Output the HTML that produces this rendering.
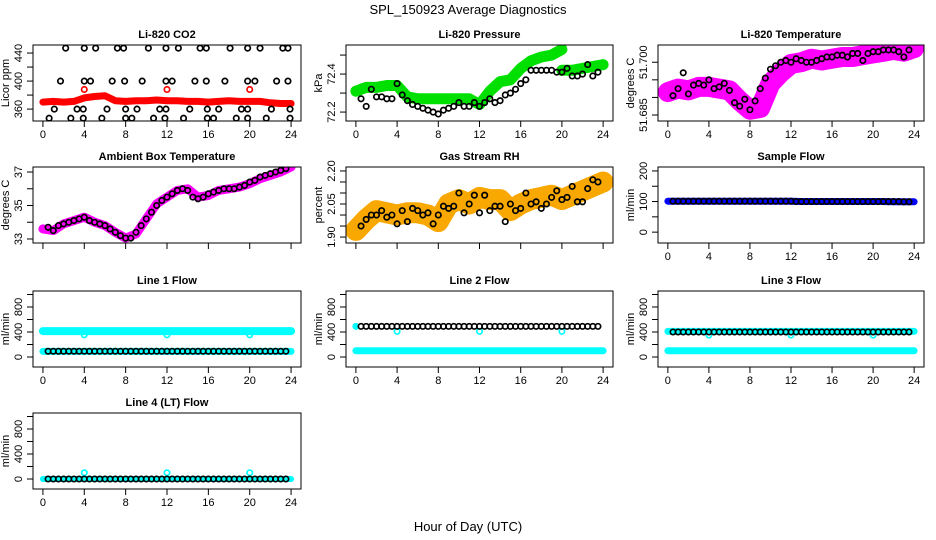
<!DOCTYPE html>
<html><head><meta charset="utf-8"><style>
html,body{margin:0;padding:0;background:#fff}
svg{display:block;font-family:"Liberation Sans",sans-serif}
</style></head><body>
<svg id="chart" width="936" height="540" viewBox="0 0 936 540">
<rect width="936" height="540" fill="#fff"/>
<text x="468" y="14" text-anchor="middle" font-size="13">SPL_150923  Average Diagnostics</text>
<text x="468" y="531" text-anchor="middle" font-size="13">Hour of Day (UTC)</text>
</svg>
<script>
// ---------- data ----------
const xTicks = [0,4,8,12,16,20,24];
const bandHours = [0,1,2,3,4,5,6,7,8,9,10,11,12,13,14,15,16,17,18,19,20,21,22,23,24];

const co2Band = [370,371,370,371,376,378,379,372,371,372,372,373,372,372,371,371,370,371,372,371,371,371,369,368,368];
const co2RedX = [4,12,20];
const co2RedY = [388,388,388];
const co2BlackX = [2.2,4.0,5.1,7.2,7.8,10.2,11.9,13.1,15.2,15.8,18.1,19.8,21.0,23.2,23.7,
  1.7,4.0,4.6,6.7,7.9,9.6,11.9,12.5,14.7,15.8,17.6,19.8,20.5,22.6,23.7,
  1.1,3.3,3.9,6.2,8.0,9.1,11.3,11.9,14.2,15.9,17.0,19.2,19.8,22.1,23.9,
  0.6,2.7,3.9,5.7,8.0,8.6,10.7,11.8,13.6,15.9,16.5,18.7,19.8,21.6,23.9];
const co2BlackY = [447,447,447,447,447,447,447,447,447,447,447,447,447,447,447,
  400,400,400,400,400,400,400,400,400,400,400,400,400,400,400,
  360,360,360,360,360,360,360,360,360,360,360,360,360,360,360,
  347,347,347,347,347,347,347,347,347,347,347,347,347,347,347];

const pressHoursA = [0,1,2,3,4,5,6,7,8,9,10,11,12,13,14,15,16,17,18,19,20];
const pressBandA = [72.31,72.33,72.33,72.34,72.34,72.28,72.27,72.27,72.27,72.27,72.27,72.27,72.24,72.31,72.36,72.37,72.43,72.47,72.49,72.50,72.53];
const pressHoursB = [20,21,22,23,24];
const pressBandB = [72.42,72.42,72.43,72.44,72.45];
const pressBlack = [72.27,72.23,72.32,72.28,72.28,72.27,72.27,72.35,72.29,72.26,72.24,72.23,72.22,72.21,72.2,72.19,72.21,72.22,72.23,72.25,72.23,72.23,72.25,72.23,72.25,72.27,72.25,72.26,72.29,72.3,72.32,72.35,72.37,72.42,72.42,72.42,72.42,72.42,72.41,72.41,72.43,72.39,72.39,72.4,72.45,72.39,72.41];

const tempBand = [51.6915,51.6925,51.692,51.693,51.693,51.6925,51.692,51.689,51.6865,51.687,51.694,51.697,51.6995,51.700,51.701,51.7005,51.701,51.7015,51.7015,51.702,51.7025,51.703,51.7035,51.703,51.704];
const tempBlack = [51.6905,51.6925,51.697,51.691,51.6935,51.694,51.6935,51.695,51.6925,51.693,51.694,51.692,51.6885,51.6875,51.6895,51.6865,51.689,51.6925,51.6955,51.698,51.699,51.700,51.7005,51.700,51.701,51.7005,51.7000,51.700,51.7005,51.701,51.7015,51.7015,51.702,51.702,51.7015,51.7025,51.7025,51.7005,51.7025,51.703,51.703,51.7035,51.7035,51.7035,51.703,51.7015,51.7035];

const ambBand = [33.6,33.5,33.9,34.1,34.3,34.0,33.8,33.4,33.05,33.3,34.2,35.1,35.5,35.9,36.0,35.5,35.6,35.9,36.0,36.1,36.3,36.6,36.8,37.0,37.3];
const ambBlack = [33.7,33.5,33.8,33.9,34.0,34.1,34.2,34.3,34.1,34.0,33.9,33.8,33.6,33.4,33.2,33.05,33.05,33.4,33.8,34.2,34.6,35.0,35.3,35.5,35.7,35.9,36.0,35.9,35.5,35.4,35.5,35.7,35.8,35.9,36.0,36.0,36.0,36.1,36.2,36.4,36.5,36.7,36.8,36.9,37.0,37.1,37.2];

const rhBand = [1.93,1.98,2.02,2.01,2.0,2.01,2.01,2.0,1.97,2.05,2.07,2.05,2.08,2.07,2.07,2.02,2.05,2.07,2.08,2.09,2.07,2.09,2.11,2.13,2.15];
const rhBlack = [1.95,1.98,2.0,2.0,2.02,1.99,2.0,1.96,2.02,1.97,2.03,2.02,2.0,2.01,1.96,2.0,2.04,2.03,2.04,2.1,2.01,2.05,2.09,2.01,2.09,2.02,2.04,2.04,1.97,2.05,2.02,2.03,2.1,2.05,2.06,2.03,2.05,2.08,2.11,2.07,2.08,2.13,2.06,2.06,2.12,2.16,2.15];

const sampleBand = [101,101,101,101,101,101,101,101,101,101,101,101,101,100,100,100,100,100,100,100,100,100,99,99,99];
const sampleBlack = [101,101,101,101,101,101,101,101,101,101,101,101,101,101,101,101,101,101,101,101,101,101,101,101,100,100,100,100,100,100,100,100,100,100,100,100,100,100,100,100,100,100,100,100,100,99,99];

const l1CyanHi = [415,415,415,415,415,415,415,415,415,415,415,415,415,415,415,415,415,415,415,415,415,415,415,415,415];
const l1CyanLo = [90,90,90,90,90,90,90,90,90,90,90,90,90,90,90,90,90,90,90,90,90,90,90,90,90];
const l1Out = [355,355,355];
const l1Black = [92,92,92,92,92,92,92,92,92,92,92,92,92,92,92,92,92,92,92,92,92,92,92,92,92,92,92,92,92,92,92,92,92,92,92,92,92,92,92,92,92,92,92,92,92,92,92];

const l2CyanHi = [490];
const l2CyanLo = [100,100,100,100,100,100,100,100,100,100,100,100,100,100,100,100,100,100,100,100,100,100,100,100,100];
const l2Out = [410,410,410];
const l2Black = [490,490,490,490,490,490,490,490,490,490,490,490,490,490,490,490,490,490,490,490,490,490,490,490,490,490,490,490,490,490,490,490,490,490,490,490,490,490,490,490,490,490,490,490,490,490,490];

const l3CyanHi = [410,410,410,410,410,410,410,410,410,410,410,410,410,410,410,410,410,410,410,410,410,410,410,410,410];
const l3CyanLo = [100,100,100,100,100,100,100,100,100,100,100,100,100,100,100,100,100,100,100,100,100,100,100,100,100];
const l3Out = [350,350,350];
const l3Black = [400,400,400,400,400,400,400,400,400,400,400,400,400,400,400,400,400,400,400,400,400,400,400,400,400,400,400,400,400,400,400,400,400,400,400,400,400,400,400,400,400,400,400,400,400,400,400];

const l4Cyan = [0,0,0,0,0,0,0,0,0,0,0,0,0,0,0,0,0,0,0,0,0,0,0,0,0];
const l4Out = [100,100,100];
const l4Black = [0,0,0,0,0,0,0,0,0,0,0,0,0,0,0,0,0,0,0,0,0,0,0,0,0,0,0,0,0,0,0,0,0,0,0,0,0,0,0,0,0,0,0,0,0,0,0];
const outHours = [4,12,20];

// ---------- drawing ----------
const NS = 'http://www.w3.org/2000/svg';
const svg = document.getElementById('chart');
const COLS = [[33,301],[346,613],[658,924]];
const ROWS = [45,167,291,413];
const BH = 76;

function mk(tag, attrs, parent){
  const e = document.createElementNS(NS, tag);
  for (const k in attrs) e.setAttribute(k, attrs[k]);
  (parent||svg).appendChild(e);
  return e;
}

function panel(col,row,cfg){
  const [L,R] = COLS[col]; const T = ROWS[row]; const B = T+BH;
  const g = mk('g',{});
  
  
  const x = h => L + (h + 0.96) / 25.92 * (R - L);
  const y = v => B - (v - cfg.ylim[0]) / (cfg.ylim[1] - cfg.ylim[0]) * BH;
  const t = mk('text',{x:(L+R)/2, y:T-7, 'text-anchor':'middle','font-size':11,'font-weight':'bold'},g);
  t.textContent = cfg.title;
  
  
  const xa = mk('g',{},g);
  
  
  mk('line',{x1:x(0),x2:x(24),y1:B,y2:B,stroke:'#000'},xa);
  xTicks.forEach(v=>{
    mk('line',{x1:x(v),x2:x(v),y1:B,y2:B+6,stroke:'#000'},xa);
    if (cfg.xlabels){
      const tl = mk('text',{x:x(v),y:B+17,'text-anchor':'middle','font-size':11},xa);
      tl.textContent = v;
    }
  });
  const ya = mk('g',{},g);
  
  
  const tk = cfg.yticks;
  mk('line',{x1:L,x2:L,y1:y(tk[0]),y2:y(tk[tk.length-1]),stroke:'#000'},ya);
  tk.forEach(v=>{
    mk('line',{x1:L-6,x2:L,y1:y(v),y2:y(v),stroke:'#000'},ya);
  });
  cfg.ylabels.forEach(v=>{
    const tl = mk('text',{x:0,y:0,'text-anchor':'middle','font-size':11,transform:`translate(${L-11},${y(v)}) rotate(-90)`},ya);
    tl.textContent = typeof v==='number' && cfg.dec ? v.toFixed(cfg.dec) : v;
  });
  const yt = mk('text',{x:0,y:0,'text-anchor':'middle','font-size':11,transform:`translate(${L-24},${(T+B)/2}) rotate(-90)`},ya);
  yt.textContent = cfg.ylab;
  
  
  const cid = 'c'+col+'_'+row;
  const cp = mk('clipPath',{id:cid},g); mk('rect',{x:L,y:T,width:R-L,height:BH},cp);
  const pg = mk('g',{'clip-path':`url(#${cid})`},g);
  (cfg.bands||[]).forEach(b=>{
    const pts = b.vals.map((v,i)=>x(b.hrs[i]).toFixed(1)+','+y(v).toFixed(1)).join(' ');
    if (b.vals.length===1){
      const c = mk('circle',{cx:x(b.hrs[0]),cy:y(b.vals[0]),r:b.w/2,fill:b.color},pg);
      
      
    } else {
      const pl = mk('polyline',{points:pts,fill:'none',stroke:b.color,'stroke-width':b.w,'stroke-linejoin':'round','stroke-linecap':'round'},pg);
      
      
    }
  });
  (cfg.pts||[]).forEach(p=>{
    p.vals.forEach((v,i)=>{
      const h = p.hrs ? p.hrs[i] : 0.5 + i*0.5;
      const c = mk('circle',{cx:x(h),cy:y(v),r:2.7,fill:'none',stroke:p.color,'stroke-width':p.sw||1.7},pg);
      
      
    });
  });
  mk('rect',{x:L,y:T,width:R-L,height:BH,fill:'none',stroke:'#000'},g);
}

panel(0,0,{name:'co2',title:'Li-820 CO2',ylab:'Licor ppm',ylim:[343,451.5],yticks:[360,380,400,420,440],ylabels:[360,400,440],xlabels:true,
  bands:[{hrs:bandHours,vals:co2Band,color:'#ff0000',w:7}],
  pts:[{hrs:co2RedX,vals:co2RedY,color:'#ff0000'},{hrs:co2BlackX,vals:co2BlackY,color:'#000'}]});
panel(1,0,{name:'pressure',title:'Li-820 Pressure',ylab:'kPa',ylim:[72.153,72.553],yticks:[72.2,72.3,72.4,72.5],ylabels:[72.2,72.4],dec:1,xlabels:true,
  bands:[{hrs:pressHoursA,vals:pressBandA,color:'#00e000',w:11},{hrs:pressHoursB,vals:pressBandB,color:'#00e000',w:11}],
  pts:[{vals:pressBlack,color:'#000'}]});
panel(2,0,{name:'li820-temperature',title:'Li-820 Temperature',ylab:'degrees C',ylim:[51.6833,51.7049],yticks:[51.685,51.690,51.695,51.700],ylabels:[51.685,51.700],dec:3,xlabels:true,
  bands:[{hrs:bandHours,vals:tempBand,color:'#ff00ff',w:20}],
  pts:[{vals:tempBlack,color:'#000'}]});
panel(0,1,{name:'ambient-temperature',title:'Ambient Box Temperature',ylab:'degrees C',ylim:[32.76,37.3],yticks:[33,34,35,36,37],ylabels:[33,35,37],xlabels:false,
  bands:[{hrs:bandHours,vals:ambBand,color:'#ff00ff',w:9}],
  pts:[{vals:ambBlack,color:'#000'}]});
panel(1,1,{name:'gas-rh',title:'Gas Stream RH',ylab:'percent',ylim:[1.873,2.218],yticks:[1.90,1.95,2.00,2.05,2.10,2.15,2.20],ylabels:[1.90,2.05,2.20],dec:2,xlabels:false,
  bands:[{hrs:bandHours,vals:rhBand,color:'#f8a800',w:21}],
  pts:[{vals:rhBlack,color:'#000'}]});
panel(2,1,{name:'sample-flow',title:'Sample Flow',ylab:'ml/min',ylim:[-35.5,212.9],yticks:[0,50,100,150,200],ylabels:[0,100,200],xlabels:true,
  bands:[{hrs:bandHours,vals:sampleBand,color:'#0000ff',w:7}],
  pts:[{vals:sampleBlack,color:'#000'}]});
const fl = {ylim:[-160,1056],yticks:[0,200,400,600,800,1000],ylabels:[0,400,800],ylab:'ml/min',xlabels:true};
panel(0,2,Object.assign({name:'line1-flow',title:'Line 1 Flow',
  bands:[{hrs:bandHours,vals:l1CyanHi,color:'#00ffff',w:8},{hrs:bandHours,vals:l1CyanLo,color:'#00ffff',w:7}],
  pts:[{hrs:outHours,vals:l1Out,color:'#00ffff'},{vals:l1Black,color:'#000'}]},fl));
panel(1,2,Object.assign({name:'line2-flow',title:'Line 2 Flow',
  bands:[{hrs:[0],vals:l2CyanHi,color:'#00ffff',w:7},{hrs:bandHours,vals:l2CyanLo,color:'#00ffff',w:7}],
  pts:[{hrs:outHours,vals:l2Out,color:'#00ffff'},{vals:l2Black,color:'#000'}]},fl));
panel(2,2,Object.assign({name:'line3-flow',title:'Line 3 Flow',
  bands:[{hrs:bandHours,vals:l3CyanHi,color:'#00ffff',w:7},{hrs:bandHours,vals:l3CyanLo,color:'#00ffff',w:7}],
  pts:[{hrs:outHours,vals:l3Out,color:'#00ffff'},{vals:l3Black,color:'#000'}]},fl));
panel(0,3,Object.assign({name:'line4-flow',title:'Line 4 (LT) Flow',
  bands:[{hrs:bandHours,vals:l4Cyan,color:'#00ffff',w:6}],
  pts:[{hrs:outHours,vals:l4Out,color:'#00ffff'},{vals:l4Black,color:'#000'}]},fl));
</script>
</body></html>
